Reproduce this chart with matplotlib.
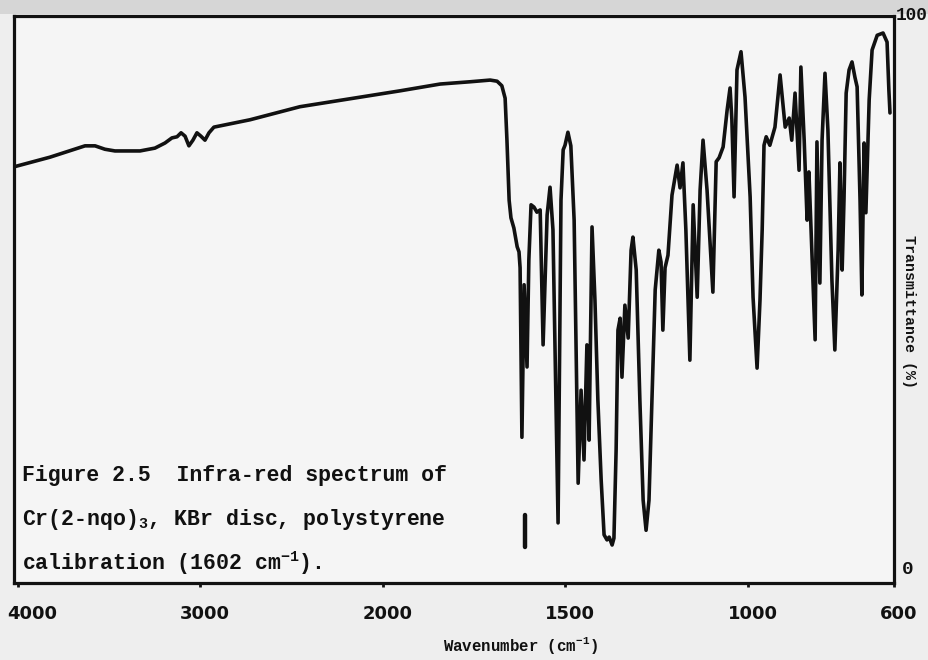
import numpy as np
import matplotlib
matplotlib.use("Agg")
import matplotlib.pyplot as plt
from matplotlib.patches import Rectangle
from matplotlib.transforms import offset_copy

# ---- data ----
wavenumber = [4020, 3823, 3631, 3576, 3522, 3467, 3330, 3248, 3193, 3155,
              3127, 3105, 3083, 3062, 3040, 3018, 2996, 2974, 2952, 2925,
              2727, 2454, 2180, 1953, 1843, 1761, 1706, 1687, 1674, 1665,
              1660, 1654, 1649, 1641, 1632, 1627, 1624, 1619, 1613, 1605,
              1600, 1594, 1586, 1578, 1569, 1561, 1550, 1542, 1534, 1520,
              1512, 1506, 1501, 1493, 1485, 1476, 1465, 1457, 1449, 1441,
              1435, 1427, 1419, 1411, 1402, 1394, 1386, 1380, 1372, 1367,
              1361, 1356, 1350, 1345, 1337, 1328, 1320, 1315, 1306, 1296,
              1287, 1279, 1271, 1263, 1254, 1244, 1238, 1233, 1227, 1219,
              1208, 1194, 1186, 1178, 1170, 1159, 1150, 1139, 1131, 1123,
              1112, 1096, 1087, 1079, 1068, 1057, 1049, 1044, 1038, 1030,
              1019, 1008, 994, 986, 975, 967, 961, 956, 950, 940,
              926, 912, 898, 887, 880, 871, 860, 855, 846, 838,
              833, 825, 816, 811, 803, 797, 789, 781, 770, 762,
              753, 748, 742, 737, 731, 723, 715, 707, 701, 693,
              688, 682, 677, 668, 660, 646, 630, 619, 614, 611]
transmittance = [73.4, 75.1, 77.1, 77.1, 76.5, 76.2, 76.2, 76.7, 77.6, 78.5,
                 78.7, 79.4, 78.8, 77.1, 78.1, 79.4, 78.8, 78.1, 79.4, 80.4,
                 81.7, 84.0, 85.4, 86.8, 88.0, 88.4, 88.7, 88.5, 87.7, 85.5,
                 78.1, 67.5, 64.4, 62.6, 59.3, 58.4, 55.6, 25.7, 52.6, 38.1,
                 57.0, 66.7, 66.3, 65.4, 65.8, 42.0, 64.9, 69.8, 62.3, 10.6,
                 67.5, 76.4, 77.2, 79.5, 77.1, 64.0, 17.6, 34.0, 21.7, 42.0,
                 25.2, 62.8, 49.9, 32.3, 18.2, 8.5, 7.6, 8.1, 6.7, 7.9,
                 23.5, 44.6, 46.7, 36.3, 49.0, 43.2, 58.7, 61.0, 55.2, 32.3,
                 14.6, 9.3, 14.6, 32.3, 51.7, 58.7, 56.6, 44.6, 55.6, 57.8,
                 68.4, 73.7, 69.7, 74.1, 62.3, 39.3, 66.7, 50.4, 69.3, 78.1,
                 69.3, 51.3, 74.3, 75.0, 76.9, 83.4, 87.3, 81.7, 68.1, 90.5,
                 93.7, 85.7, 68.1, 50.4, 37.9, 49.9, 62.3, 77.2, 78.7, 77.2,
                 80.4, 89.6, 80.4, 82.0, 78.1, 86.4, 72.8, 91.0, 78.1, 64.0,
                 72.5, 58.7, 42.9, 77.8, 52.9, 78.1, 89.9, 79.9, 53.4, 41.1,
                 58.7, 74.1, 55.2, 67.5, 86.4, 90.5, 91.9, 89.2, 87.5, 67.5,
                 50.8, 77.6, 65.3, 85.2, 94.0, 96.6, 97.0, 95.4, 86.9, 82.9]
calib_wn = [1610, 1610]
calib_t = [12.0, 6.3]
xtick_values = [4000, 3000, 2000, 1500, 1000, 600]
xtick_labels = ["4000", "3000", "2000", "1500", "1000", "600"]
caption_lines = ["Figure 2.5  Infra-red spectrum of",
                 r"Cr(2-nqo)$_\mathregular{3}$, KBr disc, polystyrene",
                 r"calibration (1602 cm$^\mathregular{-1}$)."]

# ---- two-scale IR axis (scale doubles below 2000 cm-1) ----
def fwd(w):
    w = np.asarray(w, dtype=float)
    return np.where(w >= 2000, w, 2 * w - 2000)

def inv(u):
    u = np.asarray(u, dtype=float)
    return np.where(u >= 2000, u, (u + 2000) / 2)

W, H = 929, 660
fig = plt.figure(figsize=(W / 100, H / 100), dpi=100, facecolor="#eeeeee")
fig.patches.append(Rectangle((0, 1 - 14 / H), 1, 14 / H, transform=fig.transFigure,
                             facecolor="#d6d6d6", edgecolor="none", zorder=-1))
ax = fig.add_axes([14 / W, 1 - 583 / H, 880 / W, 567 / H], facecolor="#f5f5f5")
ax.set_xscale("function", functions=(fwd, inv))
ax.set_xlim(4020, 600)
ax.set_ylim(0, 100)

ax.plot(wavenumber, transmittance, color="#111111", lw=2.6,
        solid_joinstyle="round", solid_capstyle="round")
ax.plot(calib_wn, calib_t, color="#111111", lw=3.2, solid_capstyle="round")

for s in ax.spines.values():
    s.set_linewidth(2.3)
    s.set_color("#111111")
ax.set_xticks(xtick_values)
ax.set_xticklabels([""] * len(xtick_values))
ax.set_yticks([])
ax.tick_params(axis="x", direction="out", length=3, width=2, color="#111111")

lab_font = dict(family="DejaVu Sans", weight="bold", size=13, color="#111111")
tr_lab = offset_copy(ax.get_xaxis_transform(), fig=fig, x=5, y=0, units="dots")
for v, t in zip(xtick_values, xtick_labels):
    if v == 4000:
        tr0 = offset_copy(ax.get_xaxis_transform(), fig=fig, x=-10, y=0, units="dots")
        ax.text(v, -31 / 567, t, transform=tr0, ha="left", va="center", **lab_font)
    else:
        ax.text(v, -31 / 567, t, transform=tr_lab, ha="center", va="center", **lab_font)

mono = dict(family=["Liberation Mono", "DejaVu Sans Mono"], weight="bold", color="#111111")
fig.text(896 / W, 1 - 16 / H, "100", ha="left", va="center", size=12.8, **mono)
fig.text(902 / W, 1 - 570 / H, "0", ha="left", va="center", size=14, **mono)
fig.text(909 / W, 1 - 312 / H, "Transmittance (%)", rotation=-90, ha="center",
         va="center", size=10.8, **mono)
fig.text(520 / W, 1 - 645 / H, r"Wavenumber (cm$^\mathregular{-1}$)", ha="center",
         va="center", size=11.3, **mono)

for i, line in enumerate(caption_lines):
    fig.text(22 / W, 1 - (476 + 43.5 * i) / H, line, ha="left", va="center",
             size=15.5, **mono)

fig.savefig("out.png", dpi=100, facecolor=fig.get_facecolor())
